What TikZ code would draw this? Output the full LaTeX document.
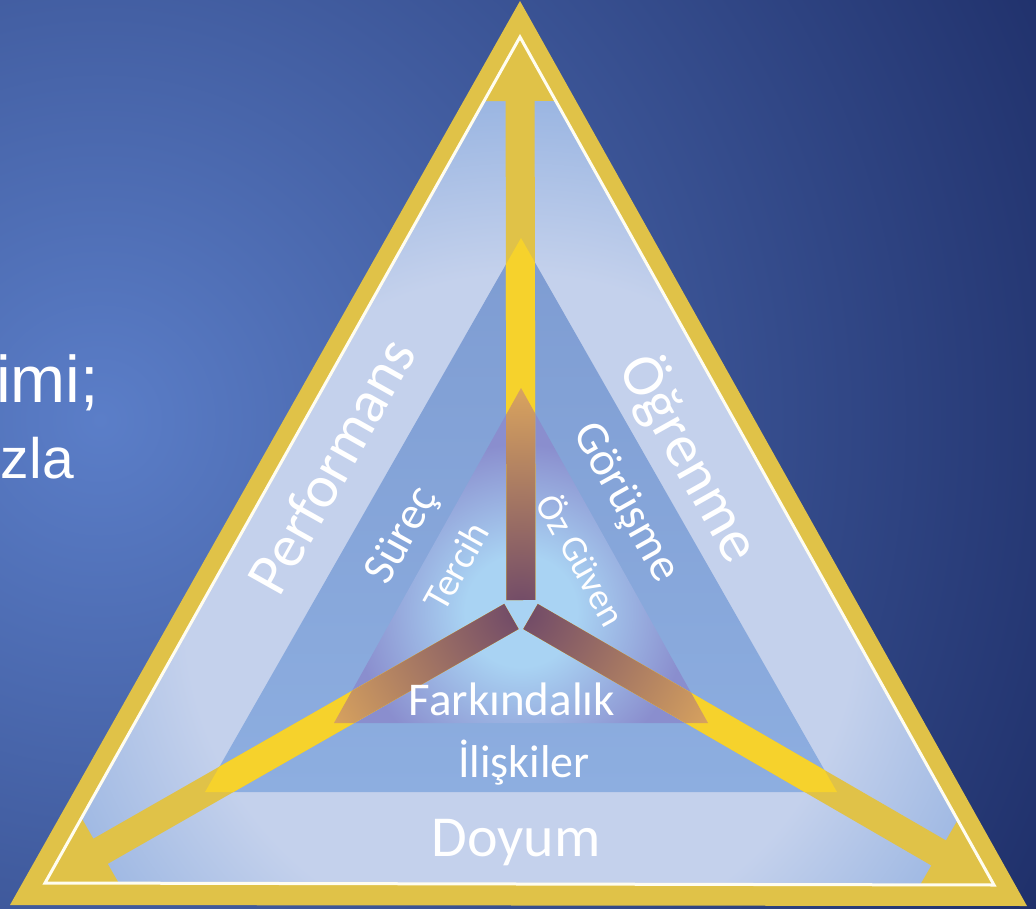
\documentclass[tikz,border=0pt]{standalone}
\usepackage{fontspec}
\usetikzlibrary{calc}
\newfontfamily\labfont{Carlito}
\newfontfamily\arialfont{Liberation Sans}
\definecolor{bgin}{HTML}{5B7EC8}
\definecolor{bgout}{HTML}{1A2962}
\definecolor{goldc}{HTML}{E0C248}
\definecolor{brightc}{HTML}{F6D22C}
\definecolor{bandlight}{HTML}{C4D1EC}
\definecolor{banddark}{HTML}{8FAEDF}
\definecolor{mtop}{HTML}{7E9CD2}
\definecolor{mbot}{HTML}{8DAEE0}
\definecolor{iin}{HTML}{A9D3F3}
\definecolor{iout}{HTML}{8A8ECE}
\definecolor{arrin}{HTML}{6E4868}
\definecolor{arrout}{HTML}{DCA65E}
\definecolor{linec}{HTML}{FFFDF0}
\pgfdeclareradialshading{bandshade}{\pgfpoint{0bp}{0bp}}{color(0bp)=(bandlight); color(15bp)=(bandlight); color(25bp)=(banddark); color(50bp)=(banddark)}
\pgfdeclareradialshading{innershade}{\pgfpoint{0bp}{0bp}}{color(0bp)=(iin); color(6bp)=(iin); color(18bp)=(iout); color(50bp)=(iout)}
\begin{document}
\begin{tikzpicture}[x=1pt,y=-1pt,
  lab/.style={text=white, inner sep=0pt},
  side/.style={text=white, inner sep=0pt, font=\arialfont}]
\useasboundingbox (0,0) rectangle (1036,909);
% background
\begin{scope}
\clip (0,0) rectangle (1036,909);
\shade[inner color=bgin, outer color=bgout] (100,420) circle (1150);
\end{scope}
% key points
\coordinate (G1) at (520,1);   \coordinate (G2) at (10,905);  \coordinate (G3) at (1027,906);
\coordinate (W1) at (520,37);  \coordinate (W2) at (45,883);  \coordinate (W3) at (994,885);
\coordinate (M1) at (521,238); \coordinate (M2) at (205,792); \coordinate (M3) at (837,792);
\coordinate (I1) at (521,388); \coordinate (I2) at (334,723); \coordinate (I3) at (708,723);
\coordinate (O) at (521,611);
% gold frame
\fill[goldc] (G1) -- (G2) -- (G3) -- cycle;
% light outer band
\begin{scope}
\clip (W1) -- (W2) -- (W3) -- cycle;
\shade[shading=bandshade] (O) circle (560);
\end{scope}
% middle triangle
\shade[top color=mtop, bottom color=mbot] (M1) -- (M2) -- (M3) -- cycle;
% inner triangle
\begin{scope}
\clip (I1) -- (I2) -- (I3) -- cycle;
\shade[shading=innershade] (O) circle (232);
\end{scope}
% arrow geometry
\foreach \k in {1,2,3}{
  \coordinate (s\k) at ($(O)!11pt!(W\k)$);
  \coordinate (q\k) at ($(W\k)!64pt!(O)$);
  \coordinate (e\k) at ($(W\k)!40pt!(O)$);
  \coordinate (t\k) at ($(W\k)!-60pt!(O)$);
  \coordinate (sa\k) at ($(s\k)!14.5pt!90:(W\k)$);
  \coordinate (sb\k) at ($(s\k)!14.5pt!-90:(W\k)$);
  \coordinate (ea\k) at ($(e\k)!14.5pt!-90:(O)$);
  \coordinate (eb\k) at ($(e\k)!14.5pt!90:(O)$);
  \coordinate (ha\k) at ($(q\k)!300pt!90:(W\k)$);
  \coordinate (hb\k) at ($(q\k)!300pt!-90:(W\k)$);
  \coordinate (ta\k) at ($(t\k)!300pt!-90:(q\k)$);
  \coordinate (tb\k) at ($(t\k)!300pt!90:(q\k)$);
}
% gold shafts and heads
\fill[goldc] (sa1) -- (ea1) -- (eb1) -- (sb1) -- cycle
             (sa2) -- (ea2) -- (eb2) -- (sb2) -- cycle
             (sa3) -- (ea3) -- (eb3) -- (sb3) -- cycle;
\begin{scope}
\clip (W1) -- (W2) -- (W3) -- cycle;
\foreach \k in {1,2,3}{
  \fill[goldc] (ha\k) -- (ta\k) -- (tb\k) -- (hb\k) -- cycle;
}
\end{scope}
% bright part inside middle triangle
\begin{scope}
\clip (M1) -- (M2) -- (M3) -- cycle;
\fill[brightc] (sa1) -- (ea1) -- (eb1) -- (sb1) -- cycle
               (sa2) -- (ea2) -- (eb2) -- (sb2) -- cycle
               (sa3) -- (ea3) -- (eb3) -- (sb3) -- cycle;
\end{scope}
% gradient part inside inner triangle
\begin{scope}
\clip (I1) -- (I2) -- (I3) -- cycle;
\clip (sa1) -- (ea1) -- (eb1) -- (sb1) -- cycle
      (sa2) -- (ea2) -- (eb2) -- (sb2) -- cycle
      (sa3) -- (ea3) -- (eb3) -- (sb3) -- cycle;
\shade[inner color=arrin, outer color=arrout] (O) circle (228);
\end{scope}
% white line
\draw[linec, line width=3pt, line join=miter] (W1) -- (W2) -- (W3) -- cycle;
% labels
\node[lab, font=\labfont\fontsize{60}{60}\selectfont, rotate=60.7] (perf) at (331,466) {Performans};
\node[lab, font=\labfont\fontsize{60}{60}\selectfont, rotate=-60.7] (ogr) at (690,458) {Öğrenme};
\node[lab, font=\labfont\fontsize{46}{46}\selectfont, rotate=60.7] (surec) at (403,536) {Süreç};
\node[lab, font=\labfont\fontsize{39}{39}\selectfont, rotate=60.7] (tercih) at (456,566) {Tercih};
\node[lab, font=\labfont\fontsize{47}{47}\selectfont, rotate=-60.7] (gorusme) at (625,503) {Görüşme};
\node[lab, font=\labfont\fontsize{37}{37}\selectfont, rotate=-60.7] (ozguven) at (583,559) {Öz Güven};
\node[lab, anchor=base, font=\labfont\fontsize{47}{47}\selectfont] (fark) at (512,715) {Farkındalık};
\node[lab, anchor=base, font=\labfont\fontsize{46}{46}\selectfont] (iliski) at (524,777) {İlişkiler};
\node[lab, anchor=base, font=\labfont\fontsize{58}{58}\selectfont] (doyum) at (516,856) {Doyum};
% left text (cut off)
\node[side, anchor=base west, font=\arialfont\fontsize{66}{66}\selectfont] (l1) at (-4,402) {imi;};
\node[side, anchor=base east, font=\arialfont\fontsize{57}{57}\selectfont] (l2) at (74,478) {zla};
\end{tikzpicture}
\end{document}
